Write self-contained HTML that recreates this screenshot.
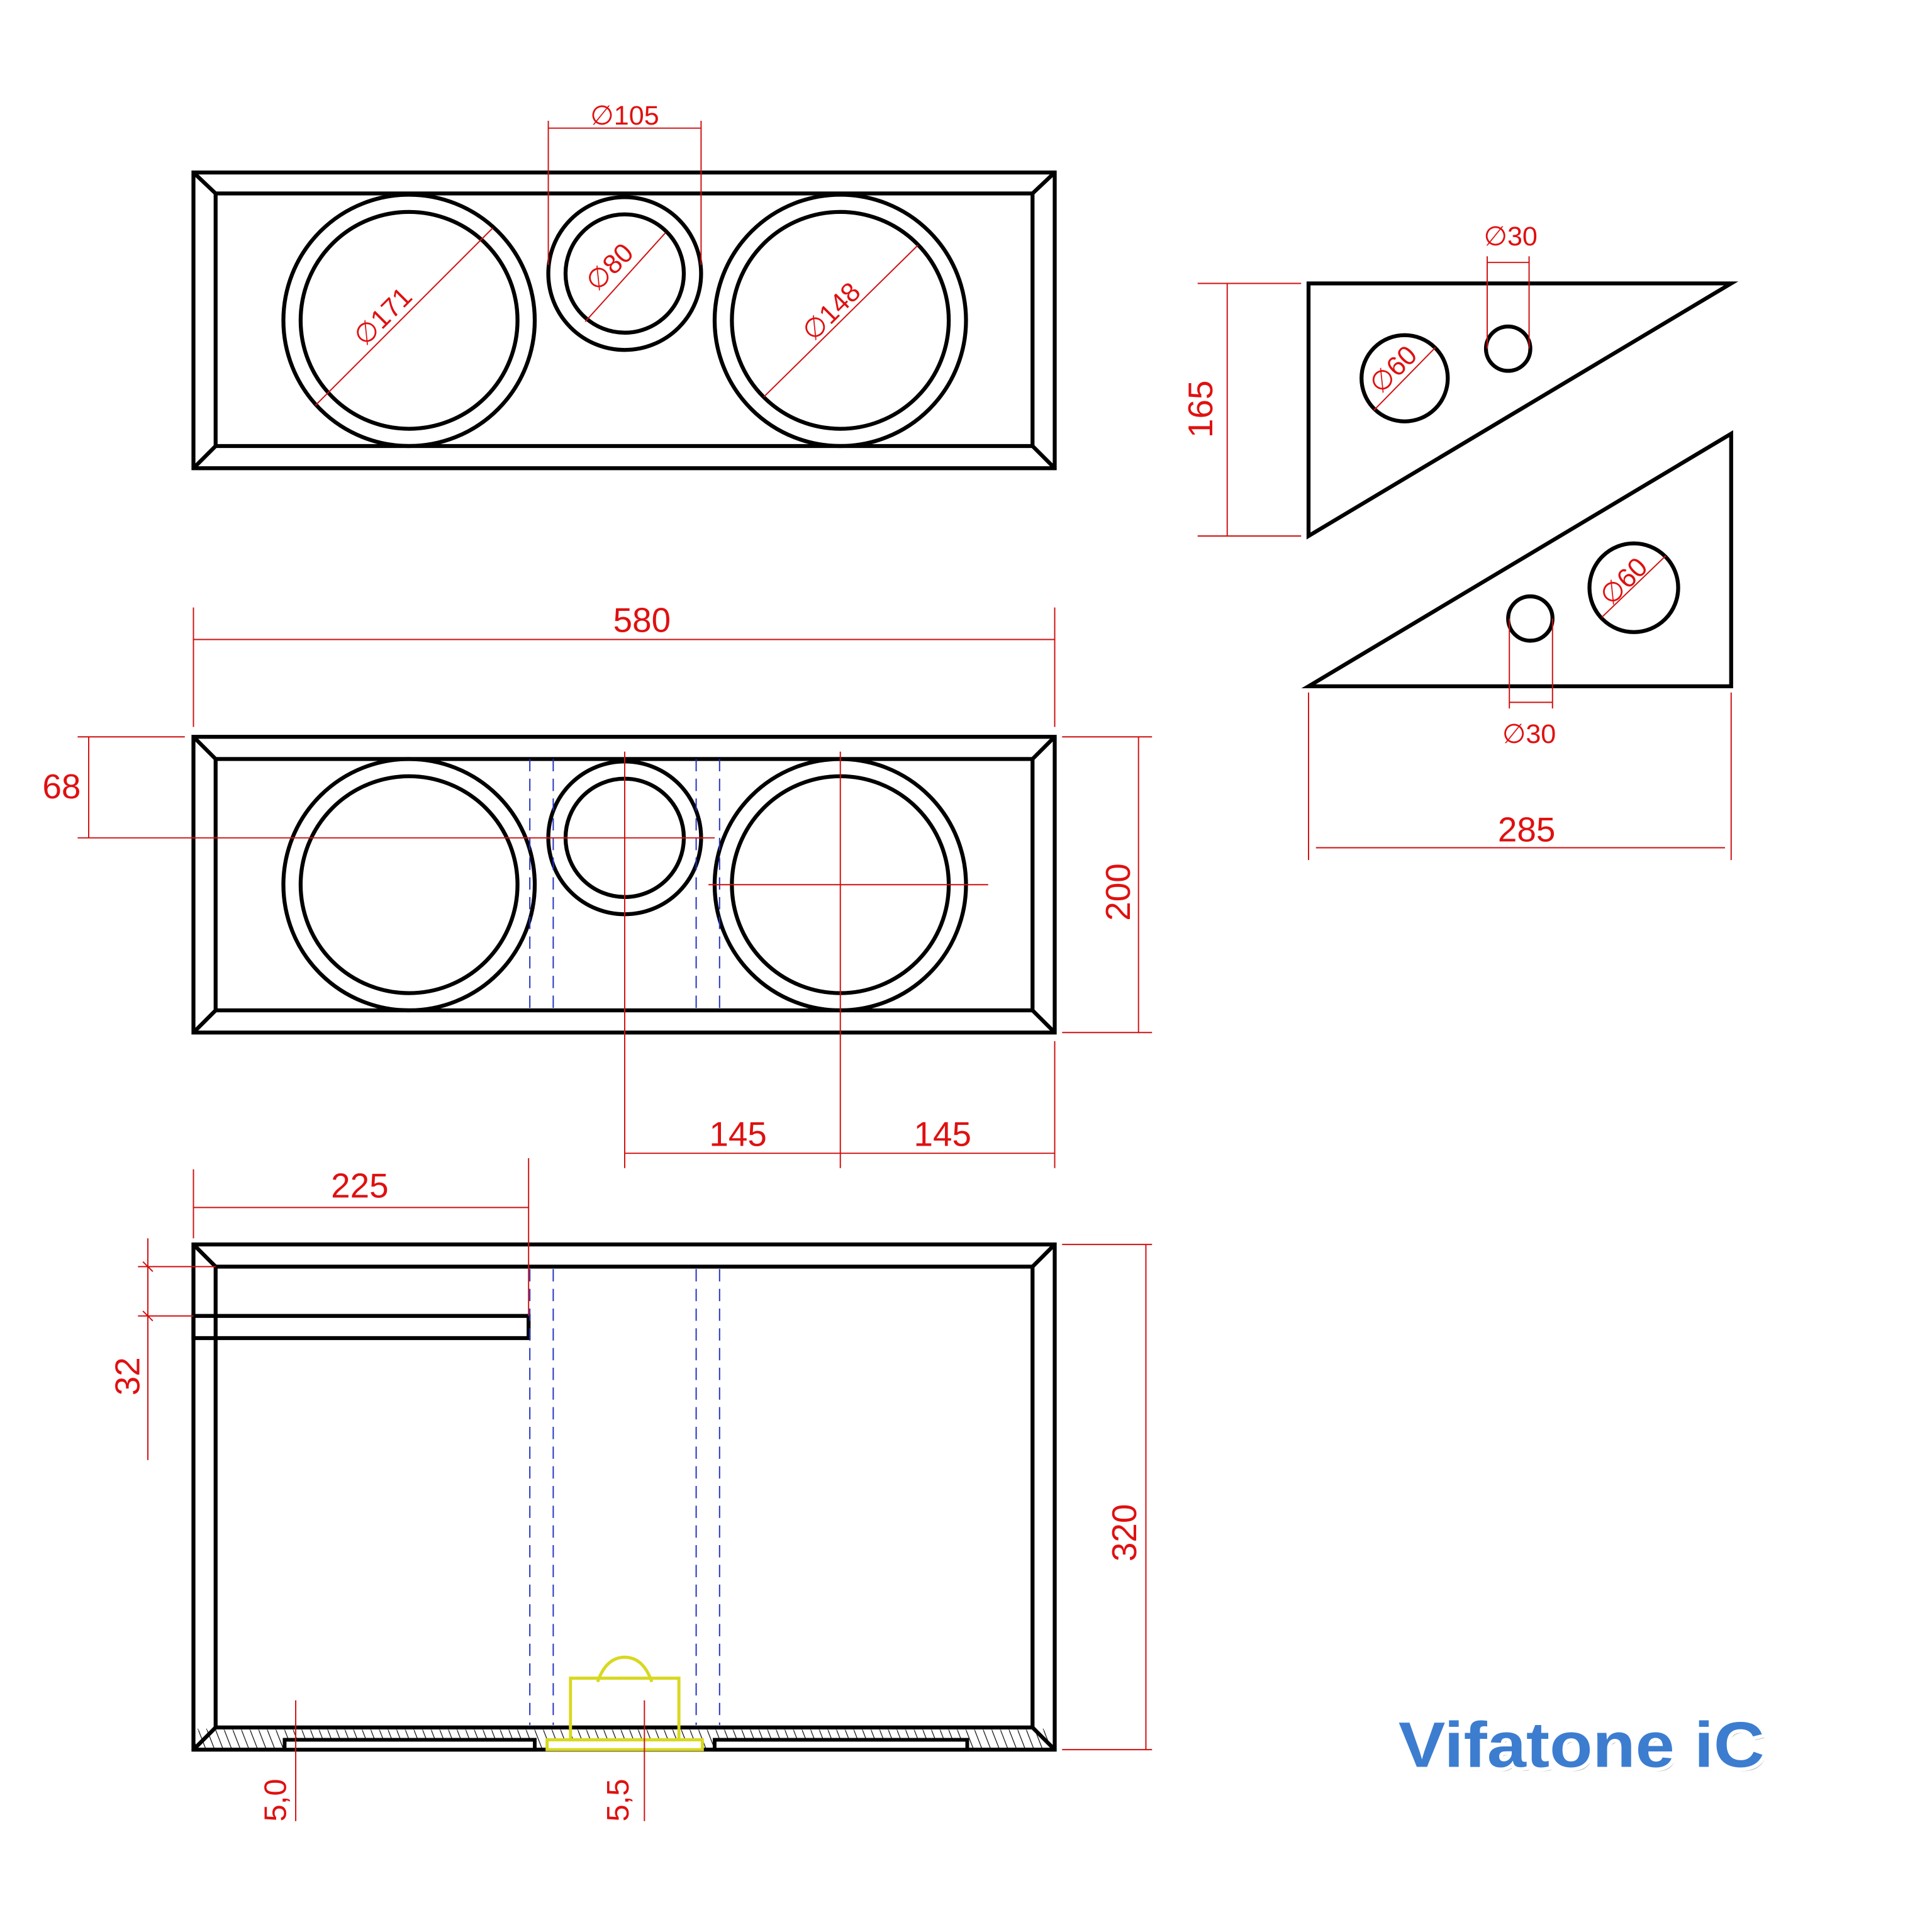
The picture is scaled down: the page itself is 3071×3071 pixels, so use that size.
<!DOCTYPE html>
<html><head><style>html,body{margin:0;padding:0;background:#fff}svg{display:block}</style></head>
<body>
<svg width="3071" height="3071" viewBox="0 0 1568 1568" xmlns="http://www.w3.org/2000/svg" font-family="Liberation Sans, sans-serif">
<defs>
<pattern id="h" width="7" height="18" patternUnits="userSpaceOnUse">
<line x1="0" y1="0" x2="7" y2="18" stroke="#000" stroke-width="0.6"/>
</pattern>
</defs>
<g fill="none" stroke="#000" stroke-width="3.2">
<rect x="157" y="140" width="699" height="240"/>
<rect x="175" y="157" width="663" height="205"/>
<path d="M157 140L175 157M856 140L838 157M157 380L175 362M856 380L838 362"/>
<circle cx="332" cy="260" r="102"/><circle cx="332" cy="260" r="88"/>
<circle cx="507" cy="222" r="62"/><circle cx="507" cy="222" r="48"/>
<circle cx="682" cy="260" r="102"/><circle cx="682" cy="260" r="88"/>
<rect x="157" y="598" width="699" height="240"/>
<rect x="175" y="616" width="663" height="204"/>
<path d="M157 598L175 616M856 598L838 616M157 838L175 820M856 838L838 820"/>
<circle cx="332" cy="718" r="102"/><circle cx="332" cy="718" r="88"/>
<circle cx="507" cy="680" r="62"/><circle cx="507" cy="680" r="48"/>
<circle cx="682" cy="718" r="102"/><circle cx="682" cy="718" r="88"/>
<rect x="157" y="1010" width="699" height="410"/>
<rect x="175" y="1028" width="663" height="374"/>
<path d="M157 1010L175 1028M856 1010L838 1028M157 1420L175 1402M856 1420L838 1402"/>
<rect x="157" y="1068" width="272" height="18"/>
</g>
<path d="M160 1403H853L856 1420H157Z" fill="url(#h)"/>
<g fill="#fff" stroke="#000" stroke-width="3">
<rect x="231" y="1412" width="203" height="8"/>
<rect x="580" y="1412" width="205" height="8"/>
</g>
<g fill="none" stroke="#d8d820" stroke-width="2.5">
<rect x="444" y="1412" width="126" height="8" fill="#fff"/>
<rect x="463" y="1362" width="88" height="50"/>
<path d="M485 1365Q492 1345 507 1345Q522 1345 529 1365"/>
</g>
<g stroke="#2030c0" stroke-width="1" stroke-dasharray="10,6">
<path d="M430 616V820M449 616V820M565 616V820M584 616V820"/>
<path d="M430 1030V1400M449 1030V1400M565 1030V1400M584 1030V1400"/>
</g>
<g fill="none" stroke="#000" stroke-width="3.2">
<path d="M1062 230H1405L1062 435Z"/>
<path d="M1062 557L1405 352V557Z"/>
<circle cx="1140" cy="307" r="35"/><circle cx="1224" cy="283" r="18"/>
<circle cx="1326" cy="477" r="36"/><circle cx="1242" cy="502" r="18"/>
</g>
<g stroke="#d01010" stroke-width="1" fill="none">
<path d="M445 98V215M569 98V215M445 104H569"/>
<path d="M256 329L400 185M475 261L540 189M620 322L745 199"/>
<path d="M157 493V590M856 493V590M157 519H856"/>
<path d="M63 598H150M63 680H580M72 598V680"/>
<path d="M507 610V948M682 610V948M575 718H802M507 936H856M856 845V948"/>
<path d="M862 598H935M862 838H935M924 598V838"/>
<path d="M157 949V1005M429 940V1068M157 980H429"/>
<path d="M120 1005V1185M112 1028H175M112 1068H157M116 1024L124 1032M116 1064L124 1072"/>
<path d="M862 1010H935M862 1420H935M930 1010V1420"/>
<path d="M240 1380V1478M523 1380V1478"/>
<path d="M1207 208V283M1241 208V283M1207 213H1241"/>
<path d="M1225 502V575M1260 502V575M1225 570H1260"/>
<path d="M1115 333L1165 282M1300 501L1352 451"/>
<path d="M972 230H1056M972 435H1056M996 230V435"/>
<path d="M1062 562V698M1405 562V698M1068 688H1400"/>
</g>
<g fill="#e01010" font-size="28" text-anchor="middle">
<text x="521" y="513">580</text>
<text x="50" y="648">68</text>
<text x="599" y="930">145</text>
<text x="765" y="930">145</text>
<text x="292" y="972">225</text>
<text x="1239" y="683">285</text>
<text transform="translate(917,724) rotate(-90)">200</text>
<text transform="translate(922,1244) rotate(-90)">320</text>
<text transform="translate(113,1117) rotate(-90)">32</text>
<text transform="translate(984,332) rotate(-90)">165</text>
<g font-size="22">
<text x="507" y="101">∅105</text>
<text x="1226" y="199">∅30</text>
<text x="1241" y="603">∅30</text>
<text font-size="25" transform="translate(232,1461) rotate(-90)">5,0</text>
<text font-size="25" transform="translate(510,1461) rotate(-90)">5,5</text>
<text transform="translate(316,262) rotate(-45)">∅171</text>
<text transform="translate(500,222) rotate(-45)">∅80</text>
<text transform="translate(680,258) rotate(-45)">∅148</text>
<text transform="translate(1136,305) rotate(-45)">∅60</text>
<text transform="translate(1323,477) rotate(-45)">∅60</text>
</g>
</g>
<text x="1137" y="1437" font-size="52" font-weight="bold" fill="#bbb" textLength="297" lengthAdjust="spacingAndGlyphs">Vifatone iC</text>
<text x="1135" y="1434" font-size="52" font-weight="bold" fill="#3c7dd0" stroke="#fff" stroke-width="6" paint-order="stroke" textLength="297" lengthAdjust="spacingAndGlyphs">Vifatone iC</text>
</svg>
</body></html>
